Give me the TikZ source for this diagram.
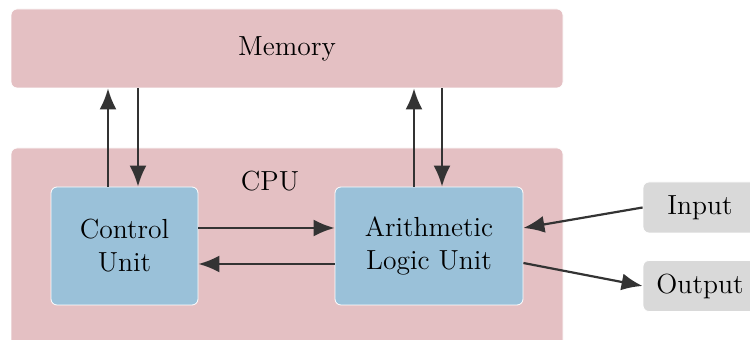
\documentclass[tikz,border=0pt]{standalone}
\usepackage{tikz}
\usetikzlibrary{arrows.meta,positioning}
\usepackage{xcolor}
\definecolor{pinkbox}{HTML}{E4C0C3}
\definecolor{bluebox}{HTML}{9AC1D9}
\definecolor{greybox}{HTML}{D9D9D9}
\definecolor{darkline}{HTML}{333333}

\begin{document}
\begin{tikzpicture}[x=0.5pt,y=-0.5pt]
    %styles
    \tikzstyle{every node}=[font=\fontsize{13.8}{16.5}\selectfont]
    \tikzstyle{part}=[rectangle,rounded corners=3pt,fill=pinkbox,draw=white,thin,inner sep=0pt]
    \tikzstyle{unit}=[rectangle,rounded corners=3pt,fill=bluebox,draw=white,thin,align=center,minimum height=59pt]
    \tikzstyle{port}=[rectangle,rounded corners=3pt,fill=greybox,draw=white,thin,minimum width=57pt,minimum height=25.5pt]
    \tikzstyle{commu}=[-{Latex[length=10.5pt,width=8.5pt]},darkline,line width=1.1pt]
    \useasboundingbox (0,0) rectangle (750,340);
    %nodes
    \node[part,minimum width=276pt,minimum height=39.5pt] (mem) at (287,48.5) {Memory};
    \node[part,minimum width=276pt,minimum height=106pt] (cpu) at (287,254) {};
    \node (cpulbl) at (270,181) {CPU};
    \node[unit,minimum width=73.5pt] (cu) at (124.5,246) {Control\\Unit};
    \node[unit,minimum width=94pt] (alu) at (429,246) {Arithmetic\\Logic Unit};
    \node[port] (inp) at (700,207.5) {Input};
    \node[port] (outp) at (700,286) {Output};

    %arrows
    \draw[commu] ([xshift=-8.25pt]cu.north)--([xshift=-8.25pt]cu.north |- mem.south);
    \draw[commu] ([xshift=6.75pt]cu.north |- mem.south)--([xshift=6.75pt]cu.north);
    \draw[commu] ([xshift=-7.5pt]alu.north)--([xshift=-7.5pt]alu.north |- mem.south);
    \draw[commu] ([xshift=6.5pt]alu.north |- mem.south)--([xshift=6.5pt]alu.north);
    \draw[commu] ([yshift=9pt]cu.east)--([yshift=9pt]alu.west);
    \draw[commu] ([yshift=-9pt]alu.west)--([yshift=-9pt]cu.east);
    \draw[commu] (inp.west)--([yshift=9pt]alu.east);
    \draw[commu] ([yshift=-8.5pt]alu.east)--(outp.west);
\end{tikzpicture}
\end{document}
